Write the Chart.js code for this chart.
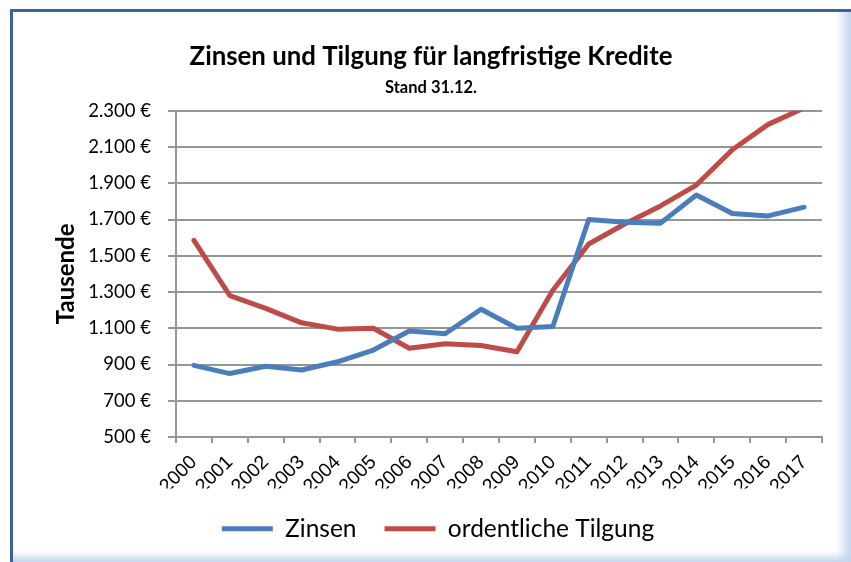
<!DOCTYPE html>
<html>
<head>
<meta charset="utf-8">
<script src="https://cdn.jsdelivr.net/npm/chart.js@4.4.0/dist/chart.umd.min.js"></script>
<style>
  html, body { margin: 0; padding: 0; background: #ffffff; }
  #wrap { position: relative; width: 851px; height: 562px; overflow: hidden; }
  #c { position: absolute; left: 0; top: 0; }
  .frame-left { position: absolute; left: 10px; top: 9px; width: 3px; height: 553px; background: #3b6496; }
  .frame-top { position: absolute; left: 10px; top: 9px; width: 841px; height: 3px; background: #3b6496; }
  .shadow-right { position: absolute; left: 836px; top: 12px; width: 15px; height: 550px;
    background: linear-gradient(to right, rgba(255,255,255,0), #c4d5ec); }
  .shadow-bottom { position: absolute; left: 13px; top: 551px; width: 838px; height: 11px;
    background: linear-gradient(to bottom, rgba(255,255,255,0), #c4d5ec); }
</style>
</head>
<body>
<div id="wrap">
  <div class="shadow-right"></div>
  <div class="shadow-bottom"></div>
  <div class="frame-left"></div>
  <div class="frame-top"></div>
  <canvas id="c" width="851" height="562"></canvas>
</div>
<script>
const years = ['2000','2001','2002','2003','2004','2005','2006','2007','2008','2009',
               '2010','2011','2012','2013','2014','2015','2016','2017'];
const zinsen = [895, 850, 890, 870, 915, 980, 1085, 1070, 1205, 1100,
                1110, 1700, 1685, 1680, 1835, 1733, 1720, 1768];
const tilgung = [1585, 1280, 1210, 1130, 1095, 1100, 990, 1015, 1005, 970,
                 1310, 1565, 1675, 1775, 1890, 2085, 2225, 2315];
const yTicks = [500, 700, 900, 1100, 1300, 1500, 1700, 1900, 2100, 2300];
const yTickLabels = ['500 €', '700 €', '900 €', '1.100 €', '1.300 €', '1.500 €',
                     '1.700 €', '1.900 €', '2.100 €', '2.300 €'];
const seriesNames = ['Zinsen', 'ordentliche Tilgung'];
const titleText = 'Zinsen und Tilgung für langfristige Kredite';
const subtitleText = 'Stand 31.12.';
const yTitle = 'Tausende';

const GRID = '#969696';
const legendShift = {
  id: 'legendShift',
  afterLayout(chart) {
    const lg = chart.legend;
    if (lg) { lg.left += 7; lg.right += 7; }
  }
};

new Chart(document.getElementById('c'), {
  type: 'line',
  data: {
    labels: years,
    datasets: [
      { label: seriesNames[0], data: zinsen, borderColor: '#4a7ebb', backgroundColor: '#4a7ebb',
        borderWidth: 5, pointRadius: 0, tension: 0, borderCapStyle: 'round', borderJoinStyle: 'round' },
      { label: seriesNames[1], data: tilgung, borderColor: '#be4b48', backgroundColor: '#be4b48',
        borderWidth: 5, pointRadius: 0, tension: 0, borderCapStyle: 'round', borderJoinStyle: 'round' }
    ]
  },
  options: {
    responsive: false,
    animation: false,
    devicePixelRatio: 1,
    layout: { padding: { left: 40, right: 29, top: 0, bottom: 11 } },
    plugins: {
      title: { display: true, text: titleText, color: '#000',
        font: { family: 'Lato', weight: 'bold', size: 25.8 }, padding: { top: 41, bottom: 0 } },
      subtitle: { display: true, text: subtitleText, color: '#000',
        font: { family: 'Lato', weight: 'bold', size: 16.5 }, padding: { top: 5.5, bottom: 13.5 } },
      legend: { display: true, position: 'bottom',
        labels: { usePointStyle: true, pointStyle: 'line', pointStyleWidth: 51, boxHeight: 5,
          padding: 28, color: '#000', font: { family: 'Lato', size: 24.5 } } },
      tooltip: { enabled: false }
    },
    scales: {
      x: {
        type: 'category',
        offset: true,
        grid: { display: true, drawOnChartArea: false, drawTicks: true, tickLength: 6,
          offset: true, color: GRID, lineWidth: 2 },
        border: { display: true, color: GRID, width: 2 },
        ticks: { autoSkip: false, minRotation: 45, maxRotation: 45, padding: 8, color: '#000',
          font: { family: 'Liberation Sans', size: 19.5 } },
        afterFit(s) { s.height = 51.5; }
      },
      y: {
        min: 500, max: 2300,
        afterBuildTicks(s) { s.ticks = yTicks.map(v => ({ value: v })); },
        grid: { color: GRID, lineWidth: 2, tickLength: 8, drawTicks: true },
        border: { display: true, color: GRID, width: 2 },
        ticks: { padding: 17, color: '#000', font: { family: 'Lato', size: 18.5 },
          callback: (v, i) => yTickLabels[yTicks.indexOf(v)] },
        title: { display: true, text: yTitle, color: '#000',
          font: { family: 'Lato', weight: 'bold', size: 24 }, padding: { top: 12, bottom: 0 } },
        afterFit(s) { s.width = 136; }
      }
    }
  },
  plugins: [legendShift]
});
</script>
</body>
</html>
